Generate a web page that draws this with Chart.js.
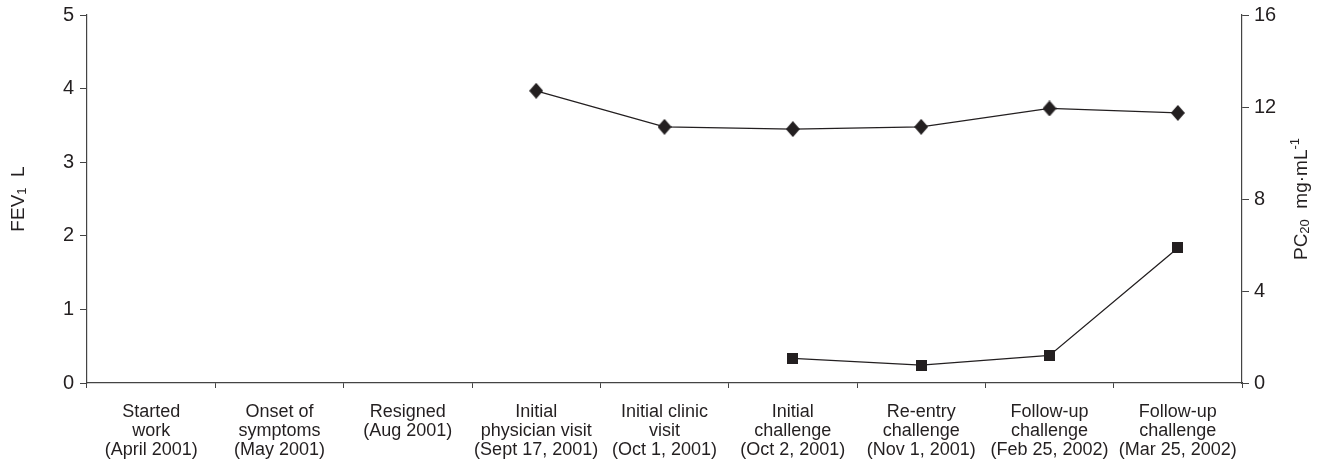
<!DOCTYPE html>
<html>
<head>
<meta charset="utf-8">
<script src="https://cdn.jsdelivr.net/npm/chart.js@4"></script>
<style>
  html, body { margin: 0; padding: 0; background: #fff; }
  #wrap { width: 1330px; height: 472px; }
</style>
</head>
<body>
<div id="wrap"><canvas id="timeline"></canvas></div>
<script>
const categories = [
  ['Started', 'work', '(April 2001)'],
  ['Onset of', 'symptoms', '(May 2001)'],
  ['Resigned', '(Aug 2001)'],
  ['Initial', 'physician visit', '(Sept 17, 2001)'],
  ['Initial clinic', 'visit', '(Oct 1, 2001)'],
  ['Initial', 'challenge', '(Oct 2, 2001)'],
  ['Re-entry', 'challenge', '(Nov 1, 2001)'],
  ['Follow-up', 'challenge', '(Feb 25, 2002)'],
  ['Follow-up', 'challenge', '(Mar 25, 2002)']
];
const fev1 = [null, null, null, 3.97, 3.48, 3.45, 3.48, 3.73, 3.67];
const pc20 = [null, null, null, null, null, 1.07, 0.78, 1.2, 5.87];
const fevTicks = [0, 1, 2, 3, 4, 5];
const pcTicks = [0, 4, 8, 12, 16];

const ink = '#231f20';
const FONT = "'Liberation Sans', Arial, sans-serif";

function marker(w, h, shape) {
  const c = document.createElement('canvas');
  c.width = w; c.height = h;
  const g = c.getContext('2d');
  g.fillStyle = ink;
  if (shape === 'diamond') {
    g.beginPath();
    g.moveTo(w / 2, 0); g.lineTo(w, h / 2); g.lineTo(w / 2, h); g.lineTo(0, h / 2);
    g.closePath(); g.fill();
  } else {
    g.fillRect(0, 0, w, h);
  }
  return c;
}

// axis titles with sub/superscripts, read bottom-to-top like the original
const axisTitles = {
  id: 'axisTitles',
  afterDraw(chart) {
    const ctx = chart.ctx;
    const area = chart.chartArea;
    const cy = (area.top + area.bottom) / 2;
    function draw(x, parts) {
      ctx.save();
      ctx.translate(x, cy);
      ctx.rotate(-Math.PI / 2);
      ctx.fillStyle = ink;
      ctx.textBaseline = 'middle';
      let total = 0;
      parts.forEach(p => {
        ctx.font = (p.s ? 13 : 19) + 'px ' + FONT;
        p.w = ctx.measureText(p.t).width;
        total += p.w;
      });
      let px = -total / 2;
      parts.forEach(p => {
        ctx.font = (p.s ? 13 : 19) + 'px ' + FONT;
        const dy = p.s === 'sub' ? 3 : p.s === 'sup' ? -7 : 0;
        ctx.fillText(p.t, px, dy);
        px += p.w;
      });
      ctx.restore();
    }
    draw(19, [{ t: 'FEV' }, { t: '1', s: 'sub' }, { t: '  L' }]);
    draw(1302, [{ t: 'PC' }, { t: '20', s: 'sub' }, { t: '  mg\u00b7mL' }, { t: '-1', s: 'sup' }]);
  }
};

new Chart(document.getElementById('timeline'), {
  type: 'line',
  data: {
    labels: categories,
    datasets: [{
      label: 'FEV1',
      data: fev1,
      yAxisID: 'yFev',
      borderColor: ink,
      borderWidth: 1.3,
      pointStyle: marker(14, 16, 'diamond'),
      pointRadius: 8
    }, {
      label: 'PC20',
      data: pc20,
      yAxisID: 'yPc',
      borderColor: ink,
      borderWidth: 1.3,
      pointStyle: marker(11, 11, 'square'),
      pointRadius: 6
    }]
  },
  options: {
    responsive: true,
    maintainAspectRatio: false,
    animation: false,
    layout: { padding: { top: 15, bottom: 0, left: 0, right: 0 } },
    plugins: { legend: { display: false }, tooltip: { enabled: false } },
    scales: {
      x: {
        offset: true,
        grid: { offset: true, drawOnChartArea: false, tickLength: 5, color: '#444' },
        border: { color: '#444', width: 1.2 },
        ticks: {
          color: ink, maxRotation: 0, autoSkip: false, padding: 15,
          font: { family: FONT, size: 18, lineHeight: 1.05 }
        },
        afterFit(s) { s.height = 89; }
      },
      yFev: {
        position: 'left',
        min: 0, max: 5,
        afterBuildTicks(s) { s.ticks = fevTicks.map(v => ({ value: v })); },
        grid: { drawOnChartArea: false, tickLength: 7, color: '#444' },
        border: { color: '#444', width: 1.2 },
        ticks: { color: ink, padding: 6, font: { family: FONT, size: 20 } },
        afterFit(s) { s.width = 87; s.paddingTop = 0; }
      },
      yPc: {
        position: 'right',
        min: 0, max: 16,
        afterBuildTicks(s) { s.ticks = pcTicks.map(v => ({ value: v })); },
        grid: { drawOnChartArea: false, tickLength: 7, color: '#444' },
        border: { color: '#444', width: 1.2 },
        ticks: { color: ink, padding: 5, font: { family: FONT, size: 20 } },
        afterFit(s) { s.width = 88; s.paddingTop = 0; }
      }
    }
  },
  plugins: [axisTitles]
});
</script>
</body>
</html>
